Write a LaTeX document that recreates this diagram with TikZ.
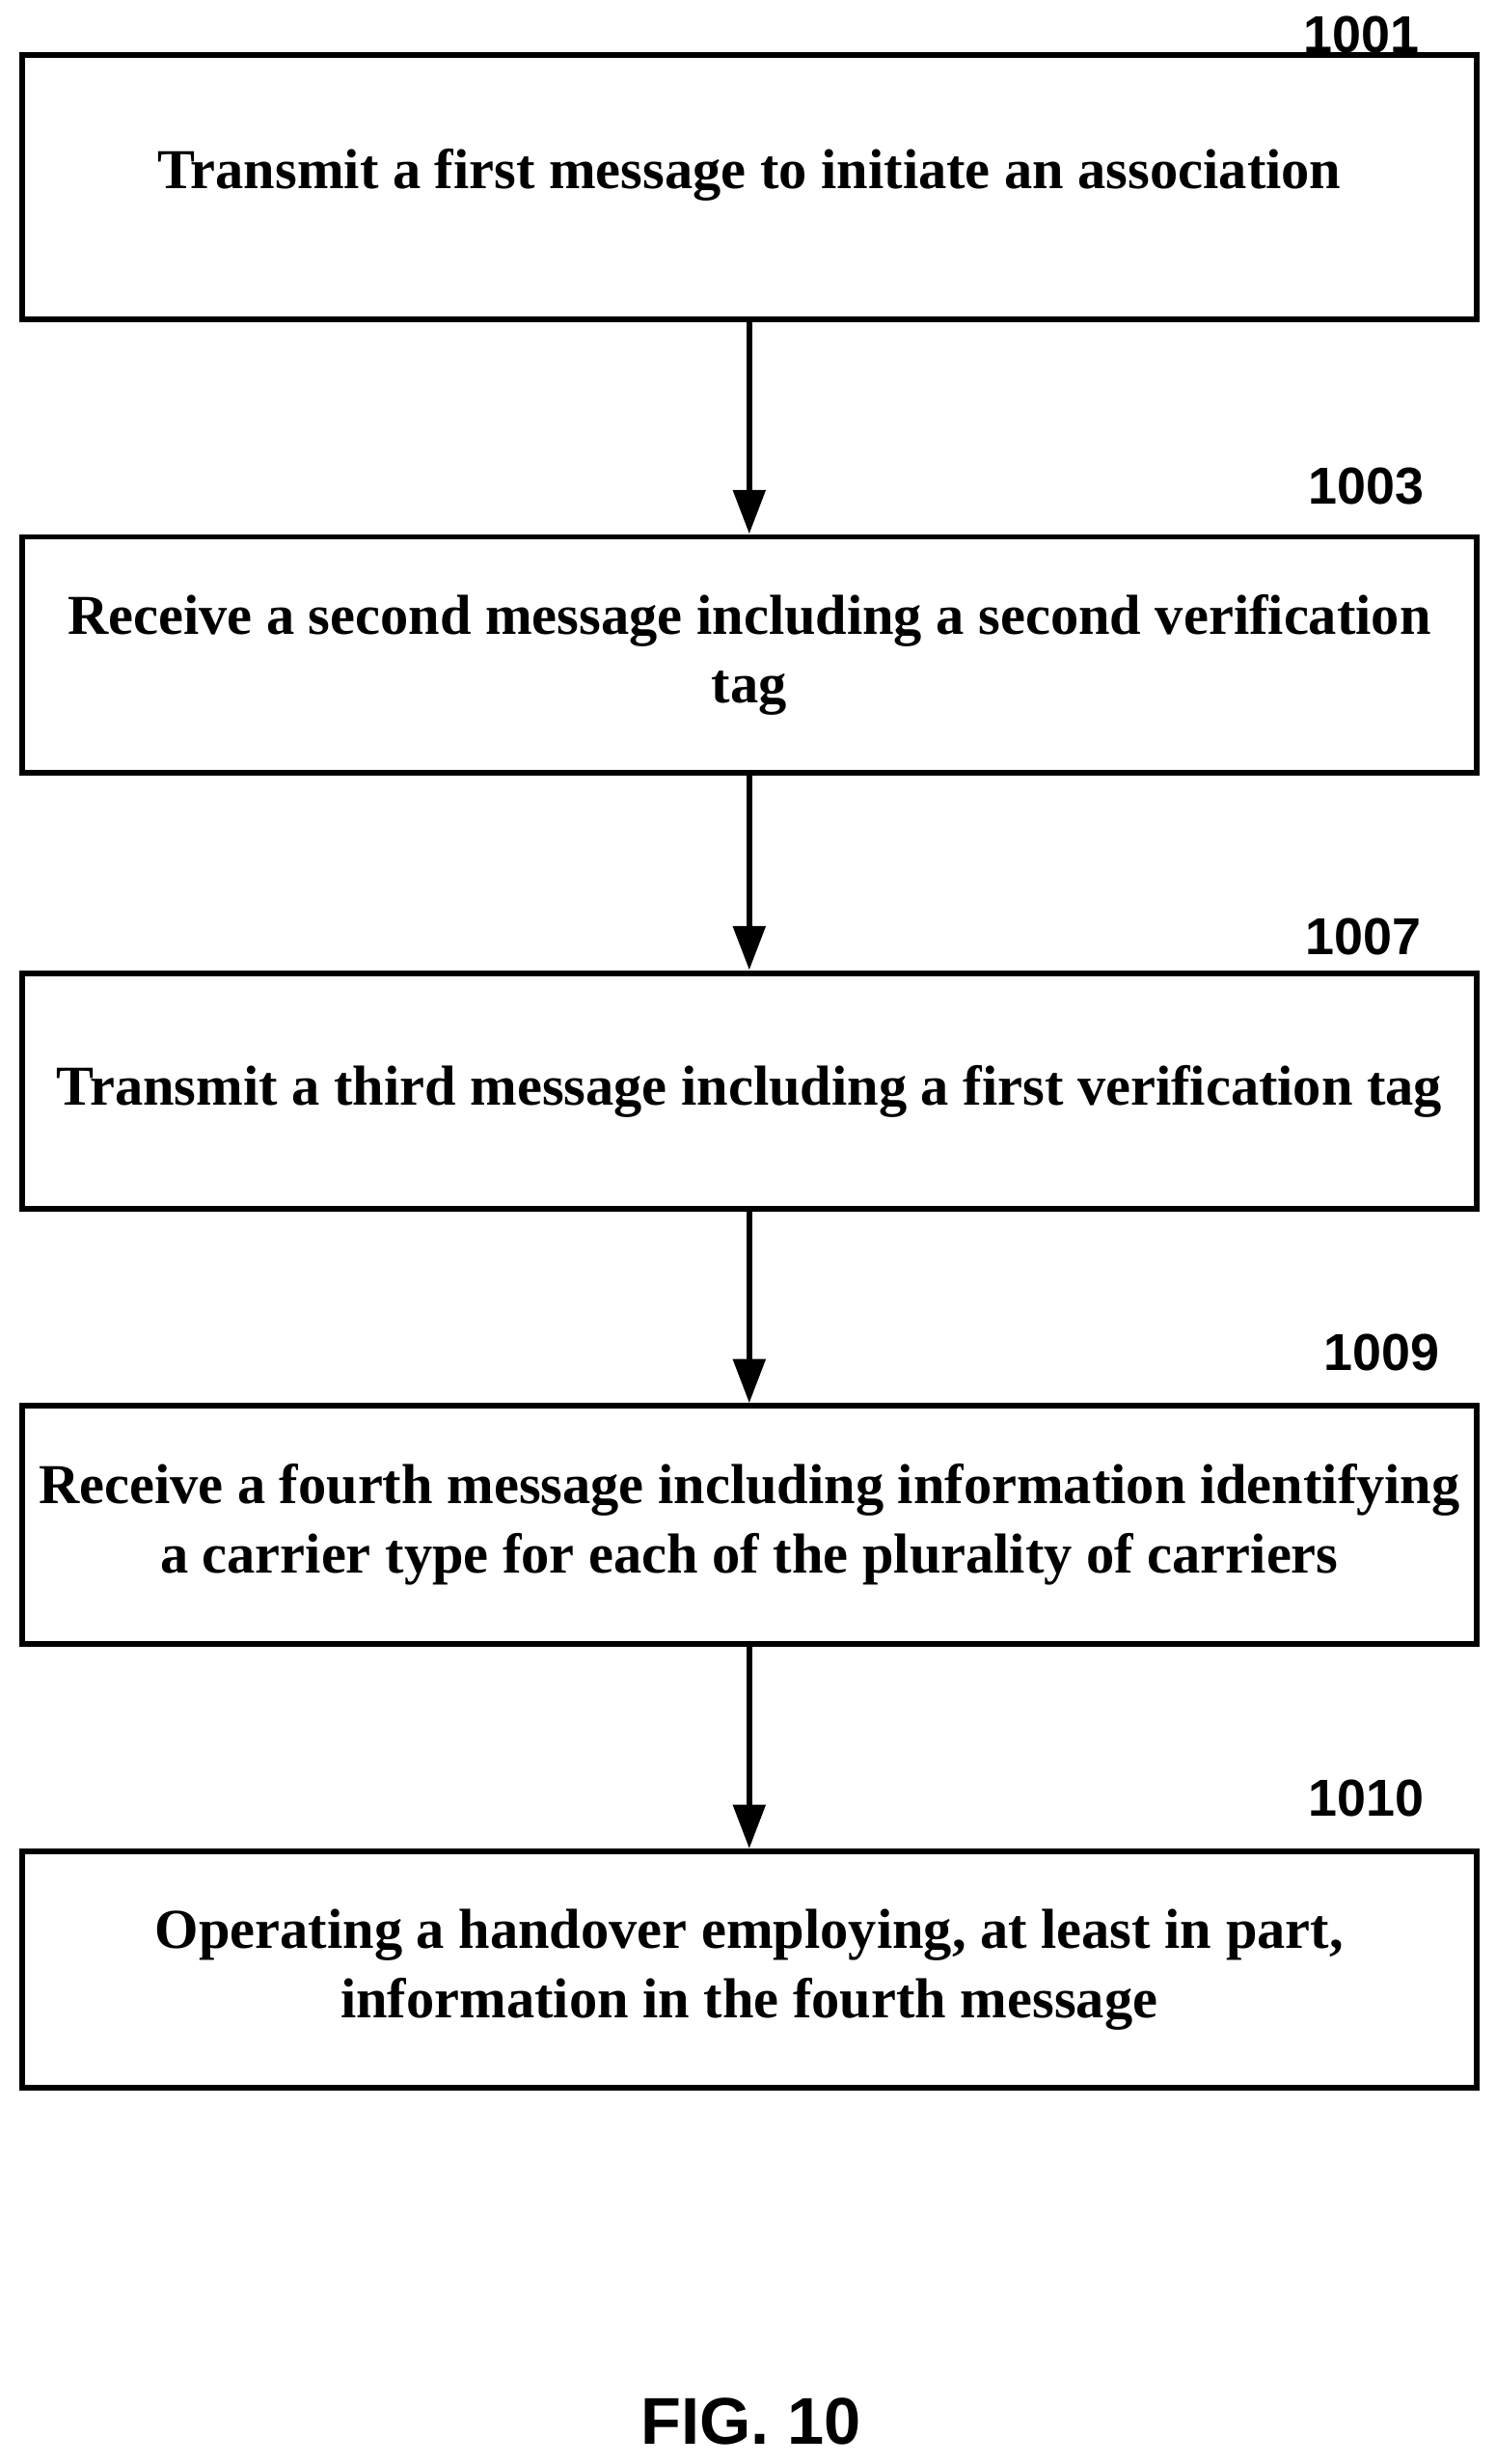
\documentclass[tikz,border=0pt]{standalone}
\usepackage{fontspec}
\setmainfont{Liberation Serif}
\newfontfamily\arial{Liberation Sans}
\usetikzlibrary{arrows.meta}
\begin{document}
\begin{tikzpicture}[x=0.5pt,y=-0.5pt,
  box/.style={draw,line width=1.8pt,minimum width=462pt,align=center,font=\fontsize{17.9}{22}\selectfont\bfseries},
  lab/.style={font=\arial\fontsize{16.5}{19}\selectfont\bfseries},
  arr/.style={line width=2pt,-{Triangle[length=14pt,width=10pt]}}]
\useasboundingbox (0,0) rectangle (950,1565);
\node[box,minimum height=84pt] (b1) at (476,119) {};
\node[font=\fontsize{17.9}{22}\selectfont\bfseries] (t1) at (476,111) {Transmit a first message to initiate an association};
\node[box,minimum height=75pt] (b2) at (476,416) {Receive a second message including a second verification\\tag};
\node[box,minimum height=75pt] (b3) at (476,693) {Transmit a third message including a first verification tag};
\node[box,minimum height=75.5pt] (b4) at (476,968.5) {Receive a fourth message including information identifying\\a carrier type for each of the plurality of carriers};
\node[box,minimum height=75pt] (b5) at (476,1251) {Operating a handover employing, at least in part,\\information in the fourth message};
\node[lab] (l1) at (865,22) {1001};
\node[lab] (l2) at (868,309) {1003};
\node[lab] (l3) at (866,595) {1007};
\node[lab] (l4) at (878,859) {1009};
\node[lab] (l5) at (868,1142) {1010};
\node[font=\arial\fontsize{21}{25}\selectfont\bfseries] (fig) at (477,1538) {FIG. 10};
\draw[arr] (b1) -- (b2);
\draw[arr] (b2) -- (b3);
\draw[arr] (b3) -- (b4);
\draw[arr] (b4) -- (b5);
\end{tikzpicture}
\end{document}
